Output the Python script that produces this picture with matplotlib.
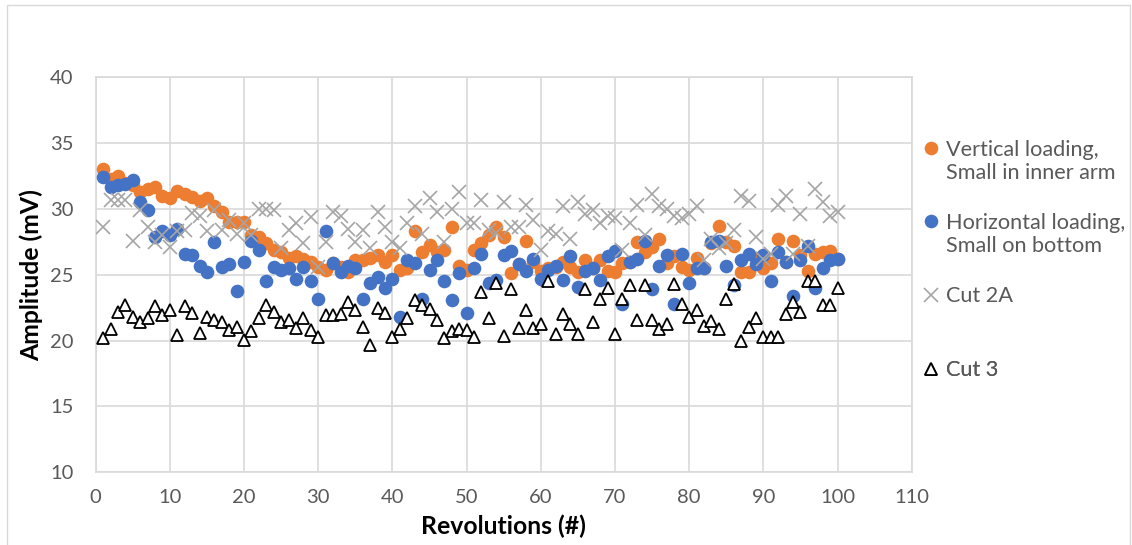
import matplotlib
matplotlib.use("Agg")
import matplotlib.pyplot as plt
from matplotlib.lines import Line2D
from matplotlib.patches import Rectangle

# Revolution index shared by all series
revolutions = list(range(1, 101))

vertical_small_inner = [
    33.0, 32.3, 32.5, 32.0, 31.8, 31.3, 31.5, 31.7, 31.0, 30.8,
    31.4, 31.1, 30.9, 30.6, 30.8, 30.2, 29.8, 29.0, 29.0, 29.0,
    28.0, 27.9, 27.4, 26.9, 26.75, 26.3, 26.4, 26.2, 26.0, 25.6,
    25.4, 25.9, 25.6, 25.2, 26.1, 26.1, 26.25, 26.5, 26.0, 26.5,
    25.4, 25.5, 28.3, 26.75, 27.3, 26.75, 26.9, 28.65, 25.7, 25.4,
    26.9, 27.4, 28.0, 28.65, 27.9, 25.1, 25.8, 27.6, 26.0, 25.3,
    25.5, 25.6, 26.0, 25.6, 25.2, 26.1, 25.5, 26.1, 25.3, 25.2,
    25.9, 26.0, 27.5, 26.75, 27.1, 27.7, 25.9, 26.4, 25.6, 25.4,
    26.25, 25.5, 27.4, 28.7, 27.5, 27.2, 25.2, 25.2, 26.3, 25.5,
    25.9, 27.7, 26.0, 27.6, 26.5, 25.3, 26.6, 26.7, 26.8, 26.2,
]

horizontal_small_bottom = [
    32.45, 31.7, 31.8, 31.9, 32.2, 30.5, 29.9, 27.9, 28.3, 28.0,
    28.5, 26.6, 26.5, 25.7, 25.2, 27.5, 25.6, 25.8, 23.8, 26.0,
    27.6, 26.9, 24.5, 25.6, 25.4, 25.5, 24.7, 25.6, 24.5, 23.2,
    28.3, 25.9, 25.2, 25.7, 25.5, 23.2, 24.35, 24.85, 24.0, 24.7,
    21.8, 26.1, 25.9, 23.2, 25.4, 26.1, 24.5, 23.1, 25.1, 22.1,
    25.5, 26.6, 24.35, 24.6, 26.5, 26.8, 25.85, 25.3, 26.2, 24.7,
    25.4, 25.7, 24.6, 26.4, 24.1, 25.3, 25.5, 24.6, 26.4, 26.8,
    22.75, 26.0, 26.2, 27.6, 23.9, 25.7, 26.5, 22.8, 26.6, 24.4,
    25.5, 25.5, 27.5, 27.6, 25.7, 24.2, 26.1, 26.6, 25.8, 26.5,
    24.5, 26.7, 26.0, 23.4, 26.1, 27.2, 24.0, 25.5, 26.1, 26.2,
]

cut_2a = [
    28.65, 30.7, 30.7, 30.7, 27.6, 29.9, 28.65, 27.5, 28.0, 27.1,
    28.3, 28.4, 29.7, 29.5, 28.3, 29.9, 28.4, 29.2, 28.1, 28.9,
    28.0, 30.0, 30.0, 29.9, 27.0, 28.4, 28.9, 27.4, 29.4, 25.6,
    27.5, 29.8, 29.5, 28.5, 27.5, 28.4, 27.0, 29.8, 28.6, 27.5,
    27.0, 28.9, 30.2, 28.1, 30.8, 29.8, 27.5, 30.0, 31.3, 28.9,
    28.9, 30.7, 28.4, 28.2, 30.5, 28.6, 28.6, 30.3, 29.2, 26.85,
    28.3, 28.1, 30.2, 27.7, 30.5, 29.6, 29.9, 28.9, 29.5, 29.3,
    26.85, 28.9, 30.3, 28.0, 31.1, 30.2, 30.0, 29.5, 29.3, 29.6,
    30.2, 26.1, 27.7, 27.0, 27.4, 28.4, 31.0, 30.6, 27.9, 26.2,
    26.6, 30.3, 31.0, 26.6, 29.6, 27.2, 31.5, 30.5, 29.5, 29.8,
]

cut_3 = [
    20.2, 20.9, 22.2, 22.7, 21.8, 21.4, 21.7, 22.6, 21.95, 22.3,
    20.4, 22.6, 22.1, 20.55, 21.8, 21.6, 21.4, 20.8, 21.0, 20.05,
    20.7, 21.7, 22.7, 22.2, 21.4, 21.6, 20.95, 21.7, 20.8, 20.3,
    21.95, 21.95, 22.0, 22.95, 22.3, 21.0, 19.7, 22.5, 22.1, 20.3,
    20.9, 21.7, 23.05, 22.7, 22.4, 21.6, 20.2, 20.7, 20.9, 20.8,
    20.3, 23.7, 21.75, 24.4, 20.35, 23.9, 20.95, 22.3, 20.95, 21.3,
    24.5, 20.5, 22.0, 21.3, 20.5, 23.9, 21.45, 23.2, 24.0, 20.5,
    23.2, 24.2, 21.6, 24.2, 21.6, 20.85, 21.3, 24.3, 22.8, 21.8,
    22.3, 21.1, 21.5, 20.85, 23.2, 24.3, 20.0, 21.0, 21.7, 20.3,
    20.3, 20.3, 22.0, 22.9, 22.2, 24.5, 24.5, 22.7, 22.7, 24.0,
]

x_ticks = [0, 10, 20, 30, 40, 50, 60, 70, 80, 90, 100, 110]
y_ticks = [10, 15, 20, 25, 30, 35, 40]

label_vertical = ["Vertical loading,", "Small in inner arm"]
label_horizontal = ["Horizontal loading,", "Small on bottom"]
label_cut2a = "Cut 2A"
label_cut3 = "Cut 3"

ORANGE = "#ED7D31"
BLUE = "#4472C4"
GRAY = "#A5A5A5"
GRID = "#D9D9D9"
TEXT = "#595959"

plt.rcParams["font.family"] = ["Lato", "DejaVu Sans"]

W, H = 1132, 545
fig = plt.figure(figsize=(W / 100, H / 100), dpi=100)

# outer chart border
fig.patches.append(Rectangle((7 / W, -0.02), (1130 - 7) / W, 1 - 5 / H + 0.02,
                             transform=fig.transFigure, fill=False,
                             edgecolor=GRID, linewidth=1.0))

ax = fig.add_axes([95.7 / W, 1 - 472.3 / H, (911.7 - 95.7) / W, (472.3 - 77.3) / H])

(h_vert,) = ax.plot(revolutions, vertical_small_inner, linestyle="none", marker="o",
                    markersize=9.8, color=ORANGE, markeredgewidth=0, zorder=3)
(h_horiz,) = ax.plot(revolutions, horizontal_small_bottom, linestyle="none", marker="o",
                     markersize=9.8, color=BLUE, markeredgewidth=0, zorder=4)
(h_c2a,) = ax.plot(revolutions, cut_2a, linestyle="none", marker="x",
                   markersize=9.6, color=GRAY, markeredgewidth=1.2, zorder=5)
(h_c3,) = ax.plot(revolutions, cut_3, linestyle="none", marker="^",
                  markersize=9.3, markerfacecolor="white", markeredgecolor="black",
                  markeredgewidth=1.3, zorder=6)

ax.set_xlim(0, 110)
ax.set_ylim(10, 40)
ax.set_xticks(x_ticks)
ax.set_yticks(y_ticks)
ax.grid(True, color=GRID, linewidth=1.2)
ax.set_axisbelow(True)
for s in ax.spines.values():
    s.set_color(GRID)
    s.set_linewidth(1.2)
ax.tick_params(axis="both", length=0, labelsize=14.5, labelcolor=TEXT)
ax.tick_params(axis="y", pad=16)
ax.tick_params(axis="x", pad=12)

ax.set_xlabel("Revolutions (#)", fontsize=17.8, fontweight="bold")
ax.set_ylabel("Amplitude (mV)", fontsize=17.8, fontweight="bold")
ax.xaxis.set_label_coords(0.5, (472.3 - 515) / 395)
ax.yaxis.set_label_coords((43 - 95.7) / 816, 0.5)

blank = Line2D([], [], linestyle="none")


def add_legend(handles, labels, y_px):
    leg = ax.legend(handles, labels, loc="center left",
                    bbox_to_anchor=(921 / W, 1 - y_px / H),
                    bbox_transform=fig.transFigure, frameon=False,
                    fontsize=15.6, labelcolor=TEXT, handlelength=0.9,
                    handletextpad=0.25, borderpad=0, borderaxespad=0,
                    labelspacing=0.14, markerscale=1.0)
    ax.add_artist(leg)
    return leg


add_legend([h_vert, blank], label_vertical, 161.5)
add_legend([h_horiz, blank], label_horizontal, 234.5)
add_legend([h_c2a], [label_cut2a], 296.5)
add_legend([h_c3], [label_cut3], 370.5)

fig.savefig("out.png", dpi=100)
